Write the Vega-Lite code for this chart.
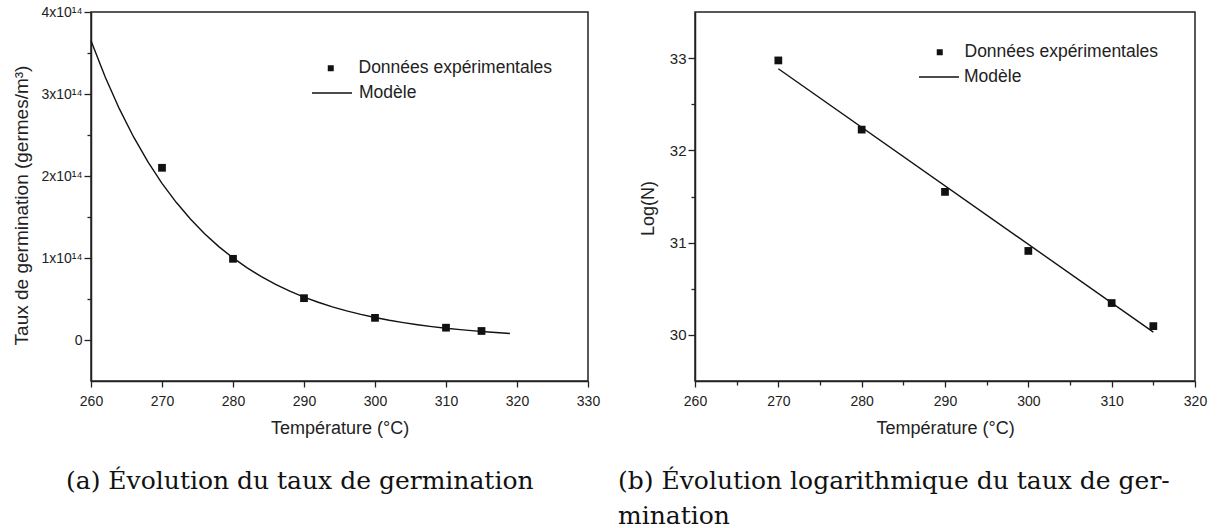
{
  "$schema": "https://vega.github.io/schema/vega-lite/v6.json",
  "background": "white",
  "padding": {"left": 12, "top": 4, "right": 0, "bottom": 0},
  "spacing": 16,
  "resolve": {"scale": {"color": "independent", "shape": "independent"}, "legend": {"color": "independent", "shape": "independent"}},
  "config": {
    "view": {"stroke": "#222", "strokeWidth": 1.5},
    "axis": {"domainColor": "#222", "domainWidth": 1.5, "tickColor": "#222", "tickWidth": 1.3, "labelFont": "Liberation Sans", "labelFontSize": 14, "labelColor": "#222", "titleFont": "Liberation Sans", "titleFontSize": 18, "titleFontWeight": "normal", "titleColor": "#222", "grid": false, "labelOverlap": false, "labelFlush": false},
    "legend": {"labelFont": "Liberation Sans", "labelFontSize": 17.5, "labelColor": "#222", "padding": 0, "labelLimit": 400, "symbolStrokeWidth": 1.3},
    "title": {"font": "DejaVu Serif", "fontSize": 25, "fontWeight": "normal", "color": "#111", "orient": "bottom", "anchor": "start", "frame": "group", "lineHeight": 35}
  },
  "datasets": {
    "a_pts": [
      {"T": 270, "N": 2.1e14, "serie": "Données expérimentales"},
      {"T": 280, "N": 0.99e14, "serie": "Données expérimentales"},
      {"T": 290, "N": 0.51e14, "serie": "Données expérimentales"},
      {"T": 300, "N": 0.27e14, "serie": "Données expérimentales"},
      {"T": 310, "N": 0.15e14, "serie": "Données expérimentales"},
      {"T": 315, "N": 0.11e14, "serie": "Données expérimentales"}
    ],
    "a_model": [
      {"T": 260, "N": 3.650e14, "serie": "Modèle"}, {"T": 262, "N": 3.207e14, "serie": "Modèle"}, {"T": 264, "N": 2.818e14, "serie": "Modèle"}, {"T": 266, "N": 2.476e14, "serie": "Modèle"},
      {"T": 268, "N": 2.175e14, "serie": "Modèle"}, {"T": 270, "N": 1.911e14, "serie": "Modèle"}, {"T": 272, "N": 1.679e14, "serie": "Modèle"}, {"T": 274, "N": 1.475e14, "serie": "Modèle"},
      {"T": 276, "N": 1.296e14, "serie": "Modèle"}, {"T": 278, "N": 1.139e14, "serie": "Modèle"}, {"T": 280, "N": 1.001e14, "serie": "Modèle"}, {"T": 282, "N": 0.879e14, "serie": "Modèle"},
      {"T": 284, "N": 0.773e14, "serie": "Modèle"}, {"T": 286, "N": 0.679e14, "serie": "Modèle"}, {"T": 288, "N": 0.596e14, "serie": "Modèle"}, {"T": 290, "N": 0.524e14, "serie": "Modèle"},
      {"T": 292, "N": 0.460e14, "serie": "Modèle"}, {"T": 294, "N": 0.404e14, "serie": "Modèle"}, {"T": 296, "N": 0.355e14, "serie": "Modèle"}, {"T": 298, "N": 0.312e14, "serie": "Modèle"},
      {"T": 300, "N": 0.274e14, "serie": "Modèle"}, {"T": 302, "N": 0.241e14, "serie": "Modèle"}, {"T": 304, "N": 0.212e14, "serie": "Modèle"}, {"T": 306, "N": 0.186e14, "serie": "Modèle"},
      {"T": 308, "N": 0.163e14, "serie": "Modèle"}, {"T": 310, "N": 0.143e14, "serie": "Modèle"}, {"T": 312, "N": 0.126e14, "serie": "Modèle"}, {"T": 314, "N": 0.111e14, "serie": "Modèle"},
      {"T": 316, "N": 0.097e14, "serie": "Modèle"}, {"T": 318, "N": 0.086e14, "serie": "Modèle"}, {"T": 319, "N": 0.080e14, "serie": "Modèle"}
    ],
    "b_pts": [
      {"T": 270, "L": 32.975, "serie": "Données expérimentales"},
      {"T": 280, "L": 32.225, "serie": "Données expérimentales"},
      {"T": 290, "L": 31.55, "serie": "Données expérimentales"},
      {"T": 300, "L": 30.91, "serie": "Données expérimentales"},
      {"T": 310, "L": 30.345, "serie": "Données expérimentales"},
      {"T": 315, "L": 30.095, "serie": "Données expérimentales"}
    ],
    "b_model": [
      {"T": 270, "L": 32.885, "serie": "Modèle"},
      {"T": 315, "L": 30.03, "serie": "Modèle"}
    ]
  },
  "hconcat": [
    {
      "width": 497,
      "height": 369,
      "title": {"text": "(a) Évolution du taux de germination", "dx": -25, "offset": 32},
      "layer": [
        {
          "data": {"name": "a_model"},
          "mark": {"type": "line", "strokeWidth": 1.4},
          "encoding": {
            "x": {"field": "T", "type": "quantitative", "scale": {"domain": [260, 330], "nice": false},
              "axis": {"title": "Température (°C)", "values": [260,265,270,275,280,285,290,295,300,305,310,315,320,325,330],
                "labelExpr": "datum.value % 10 === 0 ? datum.label : ''",
                "tickSize": {"condition": {"test": "datum.value % 10 === 0", "value": 6}, "value": 4},
                "labelPadding": 7, "titlePadding": 11}},
            "y": {"field": "N", "type": "quantitative", "scale": {"domain": [-5e13, 4e14], "nice": false, "zero": false},
              "axis": {"title": "Taux de germination (germes/m³)", "values": [0, 5e13, 1e14, 1.5e14, 2e14, 2.5e14, 3e14, 3.5e14, 4e14],
                "labelExpr": "datum.value === 0 ? '0' : (datum.value % 1e14 === 0 ? format(datum.value / 1e14, 'd') + 'x10¹⁴' : '')",
                "tickSize": {"condition": {"test": "datum.value % 1e14 === 0", "value": 7}, "value": 4},
                "labelPadding": 2, "titlePadding": 9, "titleFontSize": 19, "titleY": 193}},
            "color": {"field": "serie", "type": "nominal", "scale": {"domain": ["Modèle"], "range": ["#111"]},
              "legend": {"title": null, "orient": "none", "legendX": 220, "legendY": 60, "symbolType": "stroke", "symbolSize": 1600, "labelOffset": 6}}
          }
        },
        {
          "data": {"name": "a_pts"},
          "mark": {"type": "point", "filled": true, "opacity": 1, "color": "#111", "size": 60},
          "encoding": {
            "x": {"field": "T", "type": "quantitative"},
            "y": {"field": "N", "type": "quantitative"},
            "shape": {"field": "serie", "type": "nominal", "scale": {"domain": ["Données expérimentales"], "range": ["square"]},
              "legend": {"title": null, "orient": "none", "legendX": 231, "legendY": 47.5, "symbolSize": 36, "labelOffset": 19}}
          }
        }
      ]
    },
    {
      "width": 500,
      "height": 369,
      "title": {"text": ["(b) Évolution logarithmique du taux de ger-", "mination"], "dx": -77, "offset": 32},
      "layer": [
        {
          "data": {"name": "b_model"},
          "mark": {"type": "line", "strokeWidth": 1.4},
          "encoding": {
            "x": {"field": "T", "type": "quantitative", "scale": {"domain": [260, 320], "nice": false},
              "axis": {"title": "Température (°C)", "values": [260,265,270,275,280,285,290,295,300,305,310,315,320],
                "labelExpr": "datum.value % 10 === 0 ? datum.label : ''",
                "tickSize": {"condition": {"test": "datum.value % 10 === 0", "value": 6}, "value": 4},
                "labelPadding": 7, "titlePadding": 11}},
            "y": {"field": "L", "type": "quantitative", "scale": {"domain": [29.5, 33.5], "nice": false, "zero": false},
              "axis": {"title": "Log(N)", "values": [30, 30.5, 31, 31.5, 32, 32.5, 33],
                "labelExpr": "datum.value % 1 === 0 ? format(datum.value, 'd') : ''",
                "labelFontSize": 15,
                "tickSize": {"condition": {"test": "datum.value % 1 === 0", "value": 7}, "value": 4},
                "labelPadding": 2, "titlePadding": 12, "titleY": 196}},
            "color": {"field": "serie", "type": "nominal", "scale": {"domain": ["Modèle"], "range": ["#111"]},
              "legend": {"title": null, "orient": "none", "legendX": 223, "legendY": 44, "symbolType": "stroke", "symbolSize": 1600, "labelOffset": 4}}
          }
        },
        {
          "data": {"name": "b_pts"},
          "mark": {"type": "point", "filled": true, "opacity": 1, "color": "#111", "size": 60},
          "encoding": {
            "x": {"field": "T", "type": "quantitative"},
            "y": {"field": "L", "type": "quantitative"},
            "shape": {"field": "serie", "type": "nominal", "scale": {"domain": ["Données expérimentales"], "range": ["square"]},
              "legend": {"title": null, "orient": "none", "legendX": 236, "legendY": 31.5, "symbolSize": 36, "labelOffset": 16}}
          }
        }
      ]
    }
  ]
}
